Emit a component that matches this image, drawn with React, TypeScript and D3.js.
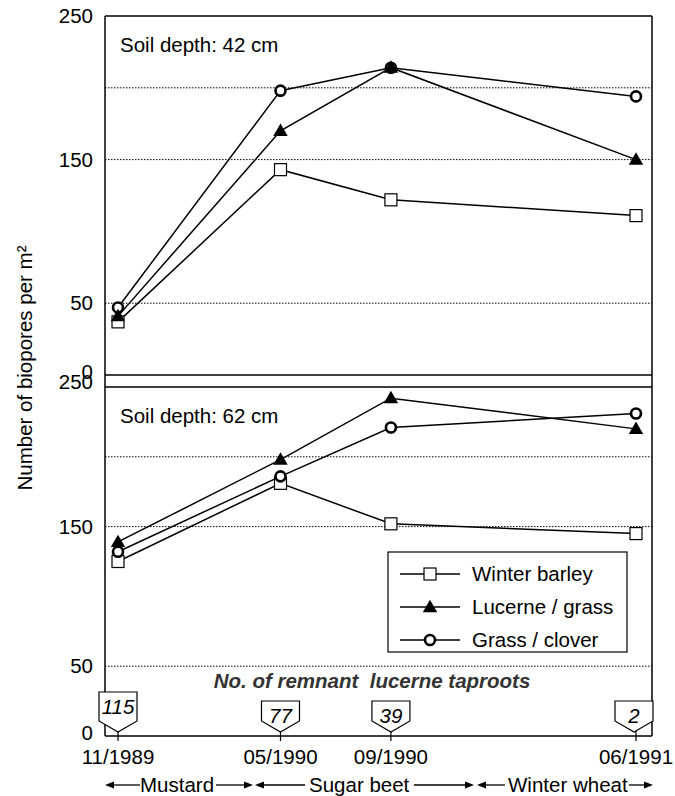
import React from 'react';
import * as d3 from 'd3';

// sampling dates
const dates = ['1989-11-15', '1990-05-15', '1990-09-15', '1991-06-15'];
const dateLabels = ['11/1989', '05/1990', '09/1990', '06/1991'];
const taproots = ['115', '77', '39', '2'];

// soil depth 42 cm
const barley42 = [37, 143, 122, 111];
const lucerne42 = [41, 170, 214, 150];
const clover42 = [47, 198, 214, 194];

// soil depth 62 cm
const barley62 = [125, 181, 152, 145];
const lucerne62 = [139, 198, 242, 220];
const clover62 = [132, 186, 221, 231];

const yTicks = [0, 50, 150, 250];
const gridVals = [50, 150, 200];

const W = 675;
const H = 796;
const left = 105;
const right = 652;
const font = 'Arial, "Liberation Sans", sans-serif';

const parse = d3.timeParse('%Y-%m-%d');

type Marker = 'square' | 'triangle' | 'circle';

function MarkerShape({kind, x, y}: {kind: Marker; x: number; y: number}) {
  if (kind === 'square') {
    return <rect x={x - 6} y={y - 6} width={12} height={12} fill="#fff" stroke="#000" strokeWidth={1.2}/>;
  }
  if (kind === 'triangle') {
    const p = d3.symbol(d3.symbolTriangle, 90)();
    return <path d={p || ''} transform={`translate(${x},${y + 1})`} fill="#000"/>;
  }
  return <circle cx={x} cy={y} r={5} fill="#fff" stroke="#000" strokeWidth={2.6}/>;
}

function Panel({y, series, label, topOffset}: {
  y: d3.ScaleLinear<number, number>;
  series: {vals: number[]; kind: Marker}[];
  label: string;
  topOffset: number;
}) {
  const x = d3.scaleTime()
    .domain([parse(dates[0])!, parse(dates[3])!])
    .range([118, 636]);
  const line = d3.line<number>()
    .x((_, i) => x(parse(dates[i])!))
    .y(d => y(d));
  const [y0, y1] = y.range();
  return <g>
    {gridVals.map(g => <line key={g} x1={left} x2={right} y1={y(g)} y2={y(g)}
                             stroke="#000" strokeWidth={1} strokeDasharray="1.5,1.5"/>)}
    <line x1={left} x2={right} y1={y1} y2={y1} stroke="#000" strokeWidth={1.5}/>
    {yTicks.map(t => <text key={t} x={93} y={y(t) + (t === 0 ? 4 : t === 250 ? topOffset : 7)} textAnchor="end"
                           fontSize={20.5}>{t}</text>)}
    <text x={120} y={y1 + 36} fontSize={20.5}>{label}</text>
    {series.map((s, i) => <path key={i} d={line(s.vals) || ''} fill="none" stroke="#000" strokeWidth={1.5}/>)}
    {series.map((s, i) => s.vals.map((v, j) =>
      <MarkerShape key={`${i}-${j}`} kind={s.kind} x={x(parse(dates[j])!)} y={y(v)}/>))}
    <line x1={left} x2={right} y1={y0} y2={y0} stroke="#000" strokeWidth={1.5}/>
  </g>;
}

function Arrow({x1, x2, y}: {x1: number; x2: number; y: number}) {
  const dir = x2 > x1 ? 1 : -1;
  return <g>
    <line x1={x1} x2={x2 - dir * 6} y1={y} y2={y} stroke="#000" strokeWidth={1.3}/>
    <path d={`M${x2},${y} L${x2 - dir * 9},${y - 3.5} L${x2 - dir * 9},${y + 3.5} Z`} fill="#000"/>
  </g>;
}

export default function App() {
  const yTop = d3.scaleLinear().domain([0, 250]).range([375, 16]);
  const yBot = d3.scaleLinear().domain([0, 250]).range([736, 387]);
  const x = d3.scaleTime()
    .domain([parse(dates[0])!, parse(dates[3])!])
    .range([118, 636]);

  const legend = [
    {name: 'Winter barley', kind: 'square' as Marker},
    {name: 'Lucerne / grass', kind: 'triangle' as Marker},
    {name: 'Grass / clover', kind: 'circle' as Marker},
  ];

  return <svg width={W} height={H} style={{position: 'absolute', left: 0, top: 0, background: '#fff'}}
              fontFamily={font}>
    <rect width={W} height={H} fill="#fff"/>
    <Panel y={yTop} label="Soil depth: 42 cm" topOffset={7} series={[
      {vals: barley42, kind: 'square'},
      {vals: clover42, kind: 'circle'},
      {vals: lucerne42, kind: 'triangle'},
    ]}/>
    <Panel y={yBot} label="Soil depth: 62 cm" topOffset={2} series={[
      {vals: barley62, kind: 'square'},
      {vals: clover62, kind: 'circle'},
      {vals: lucerne62, kind: 'triangle'},
    ]}/>
    {/* frame */}
    <line x1={left} x2={left} y1={16} y2={736} stroke="#000" strokeWidth={1.5}/>
    <line x1={right} x2={right} y1={16} y2={736} stroke="#000" strokeWidth={1.5}/>

    {/* legend */}
    <rect x={388} y={552} width={239} height={100} fill="#fff" stroke="#000" strokeWidth={1.2}/>
    {legend.map((l, i) => {
      const ly = 574 + i * 33;
      return <g key={l.name}>
        <line x1={400} x2={460} y1={ly} y2={ly} stroke="#000" strokeWidth={1.5}/>
        <MarkerShape kind={l.kind} x={430} y={ly}/>
        <text x={472} y={ly + 7} fontSize={20.5}>{l.name}</text>
      </g>;
    })}

    <text x={372} y={688} textAnchor="middle" fontSize={20.5} fontWeight="bold" fontStyle="italic"
          fill="#333">No. of remnant&#160; lucerne taproots</text>

    {/* taproot callouts and x ticks */}
    {dates.map((d, i) => {
      const tx = x(parse(d)!);
      const cx = i === 3 ? 634 : tx;
      const top = i === 0 ? 692 : 701;
      return <g key={d}>
        <line x1={tx} x2={tx} y1={730} y2={741} stroke="#000" strokeWidth={1.2}/>
        <path d={`M${cx - 19},${top} H${cx + 19} V721 L${cx},732 L${cx - 19},721 Z`}
              fill="#fff" stroke="#000" strokeWidth={1.2}/>
        <text x={cx} y={top + 22} textAnchor="middle" fontSize={20.5} fontStyle="italic">{taproots[i]}</text>
        <text x={tx} y={764} textAnchor="middle" fontSize={20.5}>{dateLabels[i]}</text>
      </g>;
    })}

    {/* crop periods */}
    <g fontSize={20.5}>
      <Arrow x1={140} x2={105} y={785}/>
      <text x={140} y={792}>Mustard</text>
      <Arrow x1={216} x2={253} y={785}/>
      <Arrow x1={305} x2={255} y={785}/>
      <text x={309} y={792}>Sugar beet</text>
      <Arrow x1={414} x2={474} y={785}/>
      <Arrow x1={505} x2={477} y={785}/>
      <text x={508} y={792}>Winter wheat</text>
      <Arrow x1={629} x2={653} y={785}/>
    </g>

    <text transform="translate(32,368) rotate(-90)" textAnchor="middle" fontSize={20.5}>
      Number of biopores per m²
    </text>
  </svg>;
}
